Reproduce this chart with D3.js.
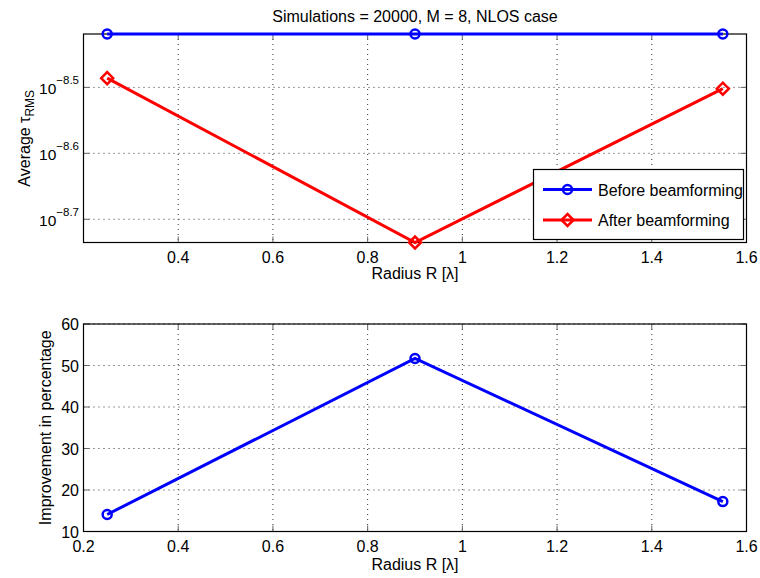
<!DOCTYPE html>
<html>
<head>
<meta charset="utf-8">
<script src="https://cdn.jsdelivr.net/npm/d3@7"></script>
<style>
  body { margin: 0; background: #fff; }
  svg { font-family: "Liberation Sans", Arial, sans-serif; }
</style>
</head>
<body>
<div id="chart"></div>
<script>
const radius = [0.25, 0.9, 1.55]
const beforeBf = [3.81e-9, 3.81e-9, 3.81e-9]
const afterBf = [3.266e-9, 1.84e-9, 3.148e-9]
const improvement = [14.1, 51.7, 17.2]
const topXTicks = [0.4, 0.6, 0.8, 1, 1.2, 1.4, 1.6]
const bottomXTicks = [0.2, 0.4, 0.6, 0.8, 1, 1.2, 1.4, 1.6]
const topYExponents = [-8.5, -8.6, -8.7]
const bottomYTicks = [10, 20, 30, 40, 50, 60]
const seriesNames = ['Before beamforming', 'After beamforming']

const width = 760
const height = 578
const left = 83.5
const right = 746.5
const topPanel = { top: 34, bottom: 242.5, labelGap: 36 }
const bottomPanel = { top: 324, bottom: 531.5, labelGap: 38 }
const fontSize = 16

const svg = d3.select('#chart')
    .append('svg')
    .attr('width', width)
    .attr('height', height)

const xScale = d3.scaleLinear().domain([0.2, 1.6]).range([left, right])

const yTop = d3.scaleLog()
    .domain([d3.min(afterBf), d3.max(beforeBf)])
    .range([topPanel.bottom, topPanel.top])

const yBottom = d3.scaleLinear()
    .domain([10, 60])
    .range([bottomPanel.bottom, bottomPanel.top])

function drawFrame(panel, xTicks, yTicks, yScale) {
    const g = svg.append('g')
    // grid
    g.selectAll('.gx')
        .data(xTicks)
        .join('line')
        .attr('x1', d => xScale(d)).attr('x2', d => xScale(d))
        .attr('y1', panel.top).attr('y2', panel.bottom)
        .attr('stroke', '#333').attr('stroke-width', 1)
        .attr('stroke-dasharray', '1,4')
    g.selectAll('.gy')
        .data(yTicks)
        .join('line')
        .attr('x1', left).attr('x2', right)
        .attr('y1', d => yScale(d)).attr('y2', d => yScale(d))
        .attr('stroke', '#333').attr('stroke-width', 1)
        .attr('stroke-dasharray', '1,4')
    // inward ticks
    xTicks.forEach(t => {
        const x = xScale(t)
        g.append('line').attr('x1', x).attr('x2', x)
            .attr('y1', panel.bottom).attr('y2', panel.bottom - 6)
            .attr('stroke', '#666')
        g.append('line').attr('x1', x).attr('x2', x)
            .attr('y1', panel.top).attr('y2', panel.top + 6)
            .attr('stroke', '#666')
    })
    yTicks.forEach(t => {
        const y = yScale(t)
        g.append('line').attr('x1', left).attr('x2', left + 6)
            .attr('y1', y).attr('y2', y).attr('stroke', '#666')
        g.append('line').attr('x1', right).attr('x2', right - 6)
            .attr('y1', y).attr('y2', y).attr('stroke', '#666')
    })
    g.append('rect')
        .attr('x', left).attr('y', panel.top)
        .attr('width', right - left).attr('height', panel.bottom - panel.top)
        .attr('fill', 'none').attr('stroke', '#000').attr('stroke-width', 1.2)
    // x tick labels
    g.selectAll('.xl')
        .data(xTicks)
        .join('text')
        .attr('x', d => xScale(d))
        .attr('y', panel.bottom + 20)
        .attr('text-anchor', 'middle')
        .attr('font-size', fontSize)
        .text(d => d)
    g.append('text')
        .attr('x', (left + right) / 2)
        .attr('y', panel.bottom + panel.labelGap)
        .attr('text-anchor', 'middle')
        .attr('font-size', fontSize)
        .text('Radius R [λ]')
    return g
}

// ---- top panel ----
const topTickVals = topYExponents.map(e => Math.pow(10, e))
const gTop = drawFrame(topPanel, topXTicks, topTickVals, yTop)

topYExponents.forEach(e => {
    const t = gTop.append('text')
        .attr('x', 79)
        .attr('y', yTop(Math.pow(10, e)) + 6.5)
        .attr('text-anchor', 'end')
        .attr('font-size', 15.5)
    t.append('tspan').text('10')
    t.append('tspan').attr('dy', -10).attr('font-size', 11.5).text('−' + Math.abs(e))
})

svg.append('text')
    .attr('transform', `translate(30, ${(topPanel.top + topPanel.bottom) / 2}) rotate(-90)`)
    .attr('text-anchor', 'middle')
    .attr('font-size', fontSize)
    .call(t => {
        t.append('tspan').text('Average τ')
        t.append('tspan').attr('dy', 4).attr('font-size', 12).text('RMS')
    })

svg.append('text')
    .attr('x', (left + right) / 2)
    .attr('y', 22)
    .attr('text-anchor', 'middle')
    .attr('font-size', fontSize)
    .text('Simulations = 20000, M = 8, NLOS case')

const line = yScale => d3.line().x((d, i) => xScale(radius[i])).y(d => yScale(d))

const diamond = (x, y, s) => `M${x},${y - s}L${x + s},${y}L${x},${y + s}L${x - s},${y}Z`

svg.append('path')
    .datum(beforeBf)
    .attr('d', line(yTop))
    .attr('fill', 'none').attr('stroke', '#0000ff').attr('stroke-width', 3)
svg.selectAll('.mb')
    .data(beforeBf)
    .join('circle')
    .attr('cx', (d, i) => xScale(radius[i]))
    .attr('cy', d => yTop(d))
    .attr('r', 4.5)
    .attr('fill', 'none').attr('stroke', '#0000ff').attr('stroke-width', 2.5)

svg.append('path')
    .datum(afterBf)
    .attr('d', line(yTop))
    .attr('fill', 'none').attr('stroke', '#ff0000').attr('stroke-width', 3)
svg.selectAll('.ma')
    .data(afterBf)
    .join('path')
    .attr('d', (d, i) => diamond(xScale(radius[i]), yTop(d), 6))
    .attr('fill', 'none').attr('stroke', '#ff0000').attr('stroke-width', 2.5)

// legend
const legend = svg.append('g')
legend.append('rect')
    .attr('x', 533.5).attr('y', 169.5)
    .attr('width', 210).attr('height', 70)
    .attr('fill', '#fff').attr('stroke', '#000').attr('stroke-width', 1.2)
const legendColors = ['#0000ff', '#ff0000']
seriesNames.forEach((name, i) => {
    const y = 189.5 + i * 30.5
    legend.append('line')
        .attr('x1', 543).attr('x2', 592).attr('y1', y).attr('y2', y)
        .attr('stroke', legendColors[i]).attr('stroke-width', 3)
    if (i === 0) {
        legend.append('circle').attr('cx', 567.5).attr('cy', y).attr('r', 4.5)
            .attr('fill', 'none').attr('stroke', legendColors[i]).attr('stroke-width', 2.5)
    } else {
        legend.append('path').attr('d', diamond(567.5, y, 6))
            .attr('fill', 'none').attr('stroke', legendColors[i]).attr('stroke-width', 2.5)
    }
    legend.append('text')
        .attr('x', 598).attr('y', y + 6)
        .attr('font-size', fontSize)
        .text(name)
})

// ---- bottom panel ----
const gBottom = drawFrame(bottomPanel, bottomXTicks, bottomYTicks, yBottom)

gBottom.selectAll('.yl')
    .data(bottomYTicks)
    .join('text')
    .attr('x', 79)
    .attr('y', d => yBottom(d) + 6)
    .attr('text-anchor', 'end')
    .attr('font-size', fontSize)
    .text(d => d)

svg.append('text')
    .attr('transform', `translate(51, ${(bottomPanel.top + bottomPanel.bottom) / 2}) rotate(-90)`)
    .attr('text-anchor', 'middle')
    .attr('font-size', fontSize)
    .text('Improvement in percentage')

svg.append('path')
    .datum(improvement)
    .attr('d', line(yBottom))
    .attr('fill', 'none').attr('stroke', '#0000ff').attr('stroke-width', 3)
svg.selectAll('.mi')
    .data(improvement)
    .join('circle')
    .attr('cx', (d, i) => xScale(radius[i]))
    .attr('cy', d => yBottom(d))
    .attr('r', 4.5)
    .attr('fill', 'none').attr('stroke', '#0000ff').attr('stroke-width', 2.5)
</script>
</body>
</html>
